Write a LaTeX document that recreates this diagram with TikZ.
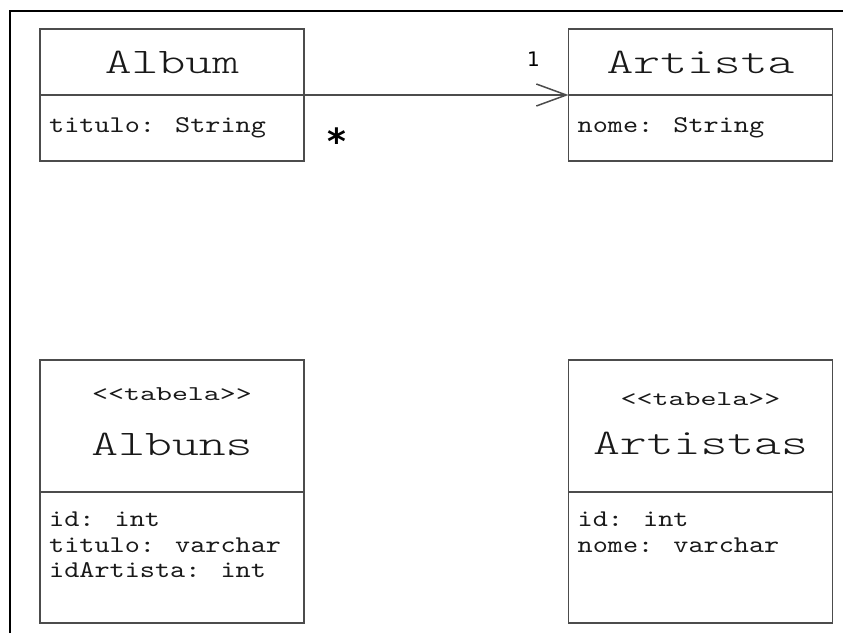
\documentclass[tikz,border=0pt]{standalone}
\usepackage{fontspec}
\newfontfamily\attrfont[Ligatures=TeXOff,FakeStretch=1.2]{lmmono10-regular.otf}
\newfontfamily\titlefont[Ligatures=TeXOff,FakeStretch=1.42]{lmmonolt10-regular.otf}
\newfontfamily\stereofont[Ligatures=TeXOff,FakeStretch=1.45]{lmmono10-regular.otf}
\newfontfamily\multfont{DejaVu Sans}
\usetikzlibrary{arrows.meta,positioning,calc}

\begin{document}
\begin{tikzpicture}[x=1pt, y=-1pt,
    box/.style={draw=black!70, line width=1.5pt, minimum width=264pt, inner sep=0pt, outer sep=0pt},
    title/.style={inner sep=0pt, text=black!90, font=\titlefont\fontsize{36}{36}\selectfont},
    stereo/.style={inner sep=0pt, text=black!90, font=\stereofont\fontsize{21}{21}\selectfont},
    attr/.style={inner sep=0pt, align=left, text=black!90, font=\attrfont\fontsize{24}{25.5}\selectfont},
    assoc/.style={-{Straight Barb[length=30pt,width=22pt]}, line width=1.5pt, draw=black!70},
    frame/.style={line width=2.5pt}
]
\useasboundingbox (0,0) rectangle (843,633);
\draw[frame] (10,633) -- (10,11) -- (843,11);

% classes
\node[box, minimum height=66pt] (album) at (172,62) {};
\node[box, minimum height=66pt, below=0pt of album] (albumbody) {};
\node[title] (albumname) at (album.center) {Album};
\node[attr, anchor=west] (albumattr) at ([xshift=9pt]albumbody.west) {titulo: String};

\node[box, minimum height=66pt] (artista) at (700.5,62) {};
\node[box, minimum height=66pt, below=0pt of artista] (artistabody) {};
\node[title] (artistaname) at (artista.center) {Artista};
\node[attr, anchor=west] (artistaattr) at ([xshift=9pt]artistabody.west) {nome: String};

\draw[assoc] (album.south east) -- (artista.south west);
\node[font=\multfont\bfseries\fontsize{36}{36}\selectfont] (many) at ([xshift=33pt,yshift=-46pt]album.south east) {*};
\node[font=\multfont\fontsize{20}{20}\selectfont] (one) at ([xshift=-35pt,yshift=36pt]artista.south west) {1};

% tables
\node[box, minimum height=132pt] (albuns) at (172,426) {};
\node[box, minimum height=131pt, below=0pt of albuns] (albunsbody) {};
\node[stereo] (albunsstereo) at ([yshift=-34pt]albuns.north) {<<tabela>>};
\node[title] (albunsname) at ([yshift=-84pt]albuns.north) {Albuns};
\node[attr, anchor=north west] (albunsattr) at ([xshift=9pt,yshift=-20pt]albunsbody.north west) {id: int\\titulo: varchar\\idArtista: int};

\node[box, minimum height=132pt] (artistas) at (700.5,426) {};
\node[box, minimum height=131pt, below=0pt of artistas] (artistasbody) {};
\node[stereo] (artistasstereo) at ([yshift=-39pt]artistas.north) {<<tabela>>};
\node[title] (artistasname) at ([yshift=-83pt]artistas.north) {Artistas};
\node[attr, anchor=north west] (artistasattr) at ([xshift=9pt,yshift=-20pt]artistasbody.north west) {id: int\\nome: varchar};
\end{tikzpicture}
\end{document}
